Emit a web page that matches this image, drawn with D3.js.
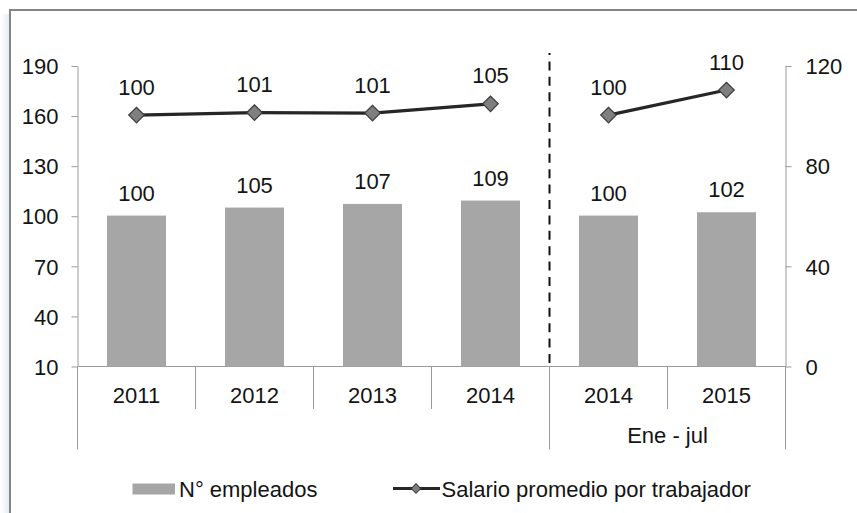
<!DOCTYPE html>
<html>
<head>
<meta charset="utf-8">
<script src="https://cdn.jsdelivr.net/npm/d3@7"></script>
<style>
  body { margin: 0; background: #fff; }
  svg { display: block; }
</style>
</head>
<body>
<div id="chart"></div>
<script>
// data (index base = 100)
const categories = ['2011', '2012', '2013', '2014', '2014', '2015'];
const periodOf = [0, 0, 0, 0, 1, 1];
const periodLabels = ['', 'Ene - jul'];
const empleados = [100.4, 105.2, 107.4, 109.4, 100.4, 102.4];
const salario = [100.4, 101.4, 101.2, 104.9, 100.4, 110.4];
const leftTicks = [10, 40, 70, 100, 130, 160, 190];
const rightTicks = [0, 40, 80, 120];
const seriesNames = ['N° empleados', 'Salario promedio por trabajador'];

const WIDTH = 857;
const HEIGHT = 513;
const PLOT = { LEFT: 77.5, RIGHT: 785.5, TOP: 66, BOTTOM: 366.5 };
const FONT = '"Liberation Sans", Arial, sans-serif';
const FONT_SIZE = 22;
const TEXT_COLOR = '#141414';
const AXIS_COLOR = '#9a9a9a';
const BAR_COLOR = '#a6a6a6';
const LINE_COLOR = '#262626';
const MARKER_FILL = '#7f7f7f';
const MARKER_STROKE = '#3c3c3c';

const rows = categories.map((c, i) => ({
	i, cat: c, period: periodOf[i], emp: empleados[i], sal: salario[i],
}));

const svg = d3.select('#chart').append('svg')
	.attr('width', WIDTH)
	.attr('height', HEIGHT)
	.style('font-family', FONT);

// outer frame with the faint blue shadow on the left
const defs = svg.append('defs');
const grad = defs.append('linearGradient').attr('id', 'shadow')
	.attr('x1', 0).attr('x2', 1).attr('y1', 0).attr('y2', 0);
grad.append('stop').attr('offset', 0).attr('stop-color', '#ffffff');
grad.append('stop').attr('offset', 1).attr('stop-color', '#e3ebf7');
svg.append('rect').attr('x', 1).attr('y', 14).attr('width', 8).attr('height', HEIGHT - 14)
	.attr('fill', 'url(#shadow)');
svg.append('path')
	.attr('d', `M10,${HEIGHT} L10,10 L${WIDTH},10`)
	.attr('fill', 'none')
	.attr('stroke', '#858585')
	.attr('stroke-width', 2);

// scales
const x = d3.scaleBand()
	.domain(rows.map(d => d.i))
	.range([PLOT.LEFT, PLOT.RIGHT])
	.paddingInner(0.5)
	.paddingOuter(0.25);

const yLeft = d3.scaleLinear().domain([10, 190]).range([PLOT.BOTTOM, PLOT.TOP]);
const yRight = d3.scaleLinear().domain([0, 120]).range([PLOT.BOTTOM, PLOT.TOP]);

const styleAxis = g => {
	g.select('.domain').attr('stroke', AXIS_COLOR);
	g.selectAll('.tick line').attr('stroke', AXIS_COLOR);
	g.selectAll('.tick text')
		.attr('fill', TEXT_COLOR)
		.attr('font-size', FONT_SIZE)
		.attr('font-family', FONT)
		.attr('dy', '0.35em');
};

svg.append('g')
	.attr('transform', `translate(${PLOT.LEFT},0)`)
	.call(d3.axisLeft(yLeft).tickValues(leftTicks).tickSize(6).tickSizeOuter(0).tickPadding(13))
	.call(styleAxis);

svg.append('g')
	.attr('transform', `translate(${PLOT.RIGHT},0)`)
	.call(d3.axisRight(yRight).tickValues(rightTicks).tickSize(6).tickSizeOuter(0).tickPadding(14))
	.call(styleAxis);

// category axis: baseline, separators, labels
const step = x.step();
const boundaries = d3.range(categories.length + 1);
svg.append('line')
	.attr('x1', PLOT.LEFT).attr('x2', PLOT.RIGHT)
	.attr('y1', PLOT.BOTTOM).attr('y2', PLOT.BOTTOM)
	.attr('stroke', AXIS_COLOR);

svg.append('g').selectAll('line')
	.data(boundaries)
	.join('line')
	.attr('x1', k => PLOT.LEFT + k * step)
	.attr('x2', k => PLOT.LEFT + k * step)
	.attr('y1', PLOT.BOTTOM)
	.attr('y2', k => (k === 0 || k === categories.length || periodOf[k] !== periodOf[k - 1]) ? 449.5 : 409)
	.attr('stroke', AXIS_COLOR);

svg.append('g').selectAll('text')
	.data(rows)
	.join('text')
	.attr('x', d => x(d.i) + x.bandwidth() / 2)
	.attr('y', 402.5)
	.attr('text-anchor', 'middle')
	.attr('font-size', FONT_SIZE)
	.attr('fill', TEXT_COLOR)
	.text(d => d.cat);

const periods = d3.groups(rows, d => d.period);
svg.append('g').selectAll('text')
	.data(periods)
	.join('text')
	.attr('x', ([, r]) => (x(r[0].i) + x(r[r.length - 1].i) + x.bandwidth()) / 2)
	.attr('y', 442.5)
	.attr('text-anchor', 'middle')
	.attr('font-size', FONT_SIZE)
	.attr('fill', TEXT_COLOR)
	.text(([p]) => periodLabels[p]);

// dashed divider between annual and Jan-Jul data
const splitX = PLOT.LEFT + 4 * step;
svg.append('line')
	.attr('x1', splitX).attr('x2', splitX)
	.attr('y1', 53).attr('y2', PLOT.BOTTOM)
	.attr('stroke', '#111')
	.attr('stroke-width', 2)
	.attr('stroke-dasharray', '9 6.4')
	.attr('stroke-dashoffset', 7);

// bars
svg.append('g').selectAll('rect')
	.data(rows)
	.join('rect')
	.attr('x', d => x(d.i))
	.attr('y', d => yLeft(d.emp))
	.attr('width', x.bandwidth())
	.attr('height', d => yLeft(10) - yLeft(d.emp))
	.attr('fill', BAR_COLOR);

svg.append('g').selectAll('text')
	.data(rows)
	.join('text')
	.attr('x', d => x(d.i) + x.bandwidth() / 2)
	.attr('y', d => yLeft(d.emp) - 15)
	.attr('text-anchor', 'middle')
	.attr('font-size', FONT_SIZE)
	.attr('fill', TEXT_COLOR)
	.text(d => d3.format('.0f')(d.emp));

// salary line, broken between periods
const line = d3.line()
	.x(d => x(d.i) + x.bandwidth() / 2)
	.y(d => yRight(d.sal));

svg.append('g').selectAll('path')
	.data(periods.map(([, r]) => r))
	.join('path')
	.attr('d', line)
	.attr('fill', 'none')
	.attr('stroke', LINE_COLOR)
	.attr('stroke-width', 3.2);

const diamond = d3.symbol(d3.symbolSquare, 120);
svg.append('g').selectAll('path')
	.data(rows)
	.join('path')
	.attr('d', diamond)
	.attr('transform', d => `translate(${x(d.i) + x.bandwidth() / 2},${yRight(d.sal)}) rotate(45)`)
	.attr('fill', MARKER_FILL)
	.attr('stroke', MARKER_STROKE)
	.attr('stroke-width', 1.2);

svg.append('g').selectAll('text')
	.data(rows)
	.join('text')
	.attr('x', d => x(d.i) + x.bandwidth() / 2)
	.attr('y', d => yRight(d.sal) - 20.5)
	.attr('text-anchor', 'middle')
	.attr('font-size', FONT_SIZE)
	.attr('fill', TEXT_COLOR)
	.text(d => d3.format('.0f')(d.sal));

// legend
const legend = svg.append('g');
legend.append('rect')
	.attr('x', 132.5).attr('y', 483.5)
	.attr('width', 42.5).attr('height', 11)
	.attr('fill', BAR_COLOR);
legend.append('text')
	.attr('x', 179).attr('y', 496.5)
	.attr('font-size', FONT_SIZE)
	.attr('fill', TEXT_COLOR)
	.text(seriesNames[0]);
legend.append('line')
	.attr('x1', 393).attr('x2', 440)
	.attr('y1', 488.5).attr('y2', 488.5)
	.attr('stroke', LINE_COLOR)
	.attr('stroke-width', 3.2);
legend.append('path')
	.attr('d', d3.symbol(d3.symbolSquare, 44)())
	.attr('transform', 'translate(416,488.5) rotate(45)')
	.attr('fill', MARKER_FILL)
	.attr('stroke', MARKER_STROKE)
	.attr('stroke-width', 1);
legend.append('text')
	.attr('x', 441.5).attr('y', 496.5)
	.attr('font-size', FONT_SIZE)
	.attr('fill', TEXT_COLOR)
	.text(seriesNames[1]);
</script>
</body>
</html>
